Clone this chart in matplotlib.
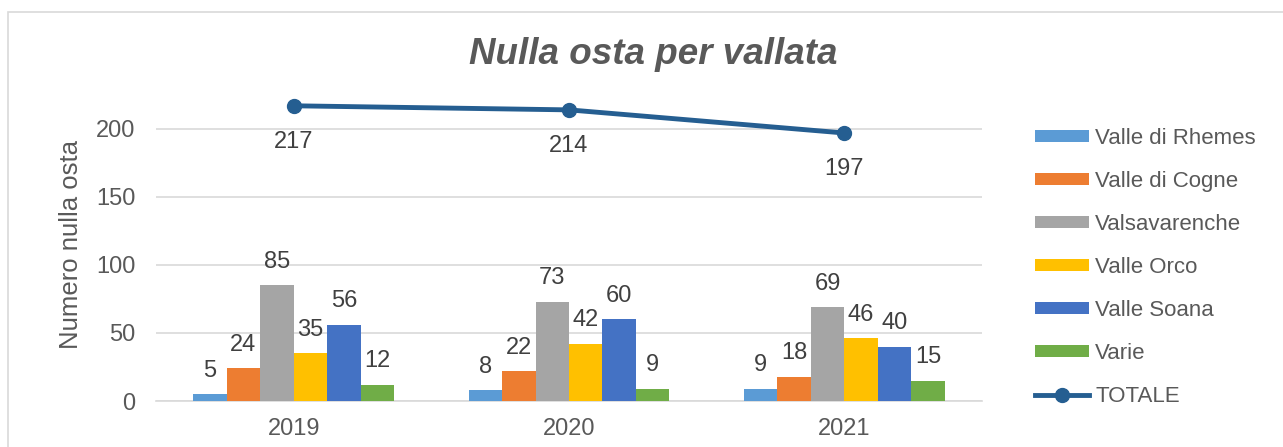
import numpy as np
import matplotlib.pyplot as plt
from matplotlib.patches import Rectangle

plt.rcParams['font.family'] = ['Liberation Sans', 'DejaVu Sans']

anni = ['2019', '2020', '2021']
vallate = ['Valle di Rhemes', 'Valle di Cogne', 'Valsavarenche',
           'Valle Orco', 'Valle Soana', 'Varie']
valori = [
    [5, 8, 9],
    [24, 22, 18],
    [85, 73, 69],
    [35, 42, 46],
    [56, 60, 40],
    [12, 9, 15],
]
totale = [217, 214, 197]

cor = ['#5B9BD5', '#ED7D31', '#A5A5A5', '#FFC000', '#4472C4', '#70AD47']
cor_linha = '#255E91'
testo = '#595959'

fig = plt.figure(figsize=(12.83, 4.47), dpi=100)
ax = fig.add_axes([0.1216, 0.1029, 0.6438, 0.700])

# bordo esterno del grafico
fig.patches.append(Rectangle((8 / 1283, -0.05), 1.2, 1 - 12 / 447 + 0.05,
                             transform=fig.transFigure, fill=False,
                             edgecolor='#D9D9D9', linewidth=1.2))

x = np.arange(len(anni))
largura = 0.1215
for i, nome in enumerate(vallate):
    pos = x + (i - 2.5) * largura
    ax.bar(pos, valori[i], width=largura, color=cor[i], label=nome, zorder=3)
    for p, v in zip(pos, valori[i]):
        ax.annotate(str(v), (p, v), xytext=(0, 9), textcoords='offset points',
                    ha='center', va='bottom', fontsize=17, color='#404040')

ax.plot(x, totale, color=cor_linha, linewidth=3.5, marker='o', markersize=10,
        label='TOTALE', zorder=4)
for xi, v in zip(x, totale):
    ax.annotate(str(v), (xi, v), xytext=(0, -18), textcoords='offset points',
                ha='center', va='top', fontsize=17, color='#404040')

ax.set_xlim(-0.5, 2.5)
ax.set_ylim(0, 230)
ax.set_yticks([0, 50, 100, 150, 200])
ax.set_xticks(x)
ax.set_xticklabels(anni)
ax.tick_params(length=0, labelsize=17, colors=testo)
ax.tick_params(axis='y', pad=15)
ax.tick_params(axis='x', pad=12)
ax.grid(axis='y', color='#D9D9D9', linewidth=1.2, zorder=0)
for s in ['top', 'right', 'left']:
    ax.spines[s].set_visible(False)
ax.spines['bottom'].set_color('#D9D9D9')
ax.spines['bottom'].set_linewidth(1.2)

ax.set_ylabel('Numero nulla osta', fontsize=18.5, color=testo, labelpad=9)
fig.text(653 / 1283, 1 - 55 / 447, 'Nulla osta per vallata',
         ha='center', va='center', fontsize=26.5, fontweight='bold',
         fontstyle='italic', color=testo)

handles, labels = ax.get_legend_handles_labels()
ordine = [1, 2, 3, 4, 5, 6, 0]
leg = ax.legend([handles[k] for k in ordine], [labels[k] for k in ordine],
                loc='upper left', bbox_to_anchor=(1.040, 0.937), frameon=False,
                fontsize=16, labelcolor=testo, handlelength=2.45, handleheight=0.45,
                labelspacing=0.99, handletextpad=0.25)

plt.savefig('out.png', dpi=100)
